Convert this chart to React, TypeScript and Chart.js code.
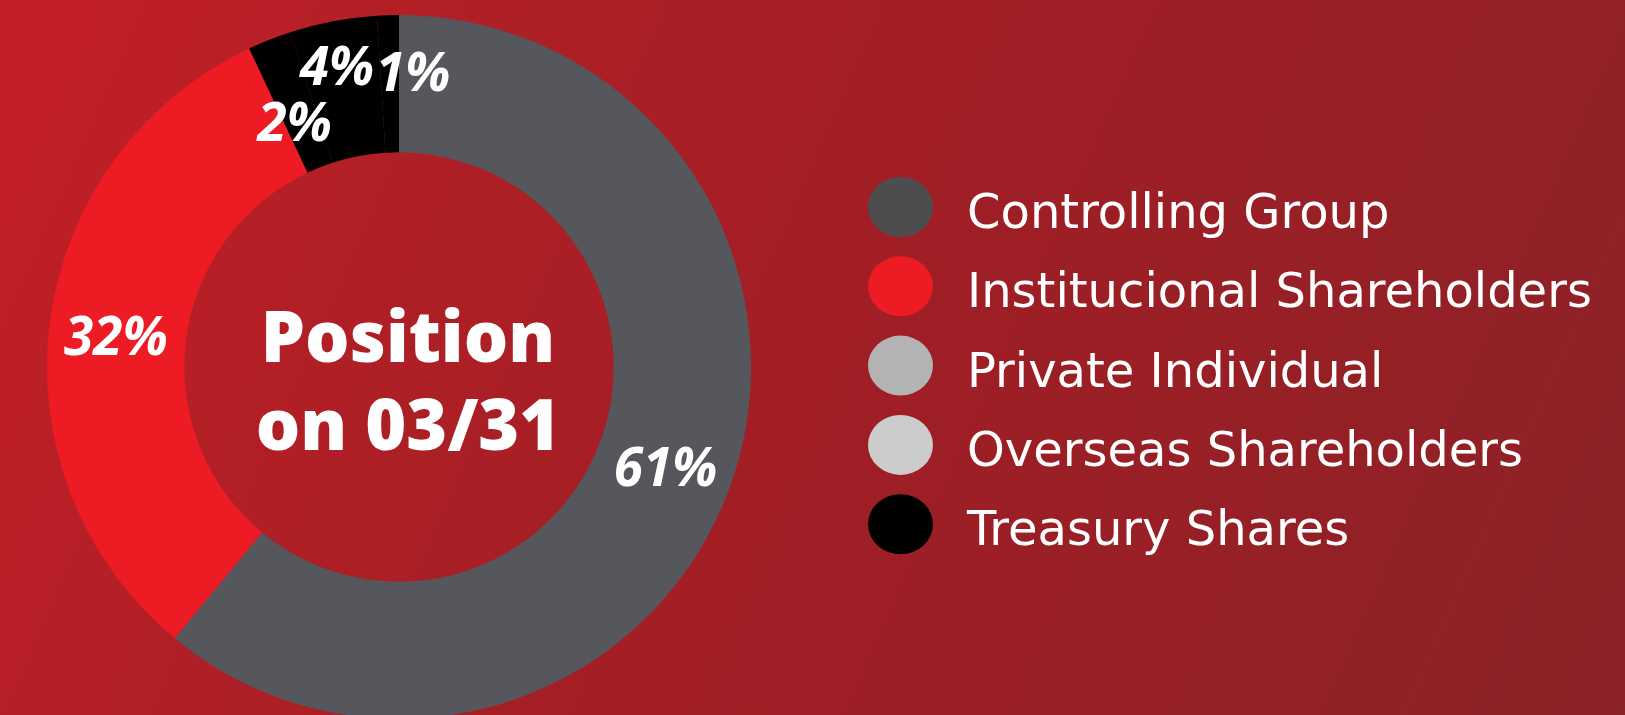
import React, { useEffect, useRef } from 'react';
import { Chart, registerables } from 'chart.js';

Chart.register(...registerables);

// ---- data ----
const categories = [
  'Controlling Group',
  'Institucional Shareholders',
  'Private Individual',
  'Overseas Shareholders',
  'Treasury Shares',
];
const shares = [61, 32, 2, 4, 1];
const shareLabels = ['61%', '32%', '2%', '4%', '1%'];
const sliceColors = ['#55575c', '#ed1c24', '#000000', '#000000', '#000000'];
const legendColors = ['#4d4d4f', '#ed1c24', '#b3b3b3', '#cccccc', '#000000'];
const centerLines = ['Position', 'on 03/31'];

const W = 1625;
const H = 760;

// fine nudges for the slice labels (pixels)
const labelNudges = [
  { dx: 0, dy: 4 },
  { dx: -2, dy: 4 },
  { dx: 0, dy: 18 },
  { dx: -9, dy: -23 },
  { dx: 23, dy: -12 },
];

const backgroundPlugin = {
  id: 'bgGradient',
  beforeDraw(chart: any) {
    const { ctx } = chart;
    const g = ctx.createLinearGradient(0, 0, 1625, 715);
    g.addColorStop(0, '#c41f27');
    g.addColorStop(0.29, '#ad1f25');
    g.addColorStop(0.53, '#a01e25');
    g.addColorStop(1, '#8b2227');
    ctx.save();
    ctx.fillStyle = g;
    ctx.fillRect(0, 0, chart.width, chart.height);
    ctx.restore();
  },
};

const labelsPlugin = {
  id: 'sliceLabels',
  afterDatasetsDraw(chart: any) {
    const { ctx } = chart;
    const meta = chart.getDatasetMeta(0);
    const size = 53;
    ctx.save();
    ctx.fillStyle = '#ffffff';
    ctx.font = `italic 700 ${size}px "Open Sans", sans-serif`;
    ctx.textAlign = 'center';
    ctx.textBaseline = 'alphabetic';
    meta.data.forEach((arc: any, i: number) => {
      const p = arc.getProps(['x', 'y', 'startAngle', 'endAngle', 'innerRadius', 'outerRadius'], true);
      const mid = (p.startAngle + p.endAngle) / 2;
      const r = (p.innerRadius + p.outerRadius) / 2;
      const n = labelNudges[i] || { dx: 0, dy: 0 };
      const x = p.x + Math.cos(mid) * r + n.dx;
      const y = p.y + Math.sin(mid) * r + n.dy;
      ctx.fillText(shareLabels[i], x, y + size * 0.36);
    });
    // center text
    const c = meta.data[0];
    const cx = c.x + 9;
    ctx.font = `800 70px "Open Sans", sans-serif`;
    ctx.fillText(centerLines[0], cx, 362);
    ctx.fillText(centerLines[1], cx, 450);
    ctx.restore();
  },
};

const legendPlugin = {
  id: 'customLegend',
  afterDraw(chart: any) {
    const { ctx } = chart;
    const labels: string[] = chart.data.labels;
    ctx.save();
    ctx.font = `400 48px "DejaVu Sans", sans-serif`;
    ctx.textAlign = 'left';
    ctx.textBaseline = 'alphabetic';
    labels.forEach((lab, i) => {
      const cy = 207 + i * 79.3;
      ctx.beginPath();
      ctx.ellipse(900.5, cy, 32.5, 30, 0, 0, Math.PI * 2);
      ctx.fillStyle = legendColors[i];
      ctx.fill();
      ctx.fillStyle = '#ffffff';
      ctx.fillText(lab, 967, cy + 21);
    });
    ctx.restore();
  },
};

export default function App() {
  const ref = useRef<HTMLCanvasElement | null>(null);

  useEffect(() => {
    if (!ref.current) return;
    const chart = new Chart(ref.current, {
      type: 'doughnut',
      data: {
        labels: categories,
        datasets: [
          {
            data: shares,
            backgroundColor: sliceColors,
            borderWidth: 0,
            hoverOffset: 0,
          },
        ],
      },
      options: {
        responsive: false,
        animation: false,
        cutout: '61%',
        rotation: 0,
        layout: {
          padding: { left: 47, top: 15, right: W - 47 - 704, bottom: H - 15 - 704 },
        },
        plugins: {
          legend: { display: false },
          tooltip: { enabled: false },
        },
        events: [],
      },
      plugins: [backgroundPlugin, labelsPlugin, legendPlugin],
    });
    return () => chart.destroy();
  }, []);

  return (
    <div
      style={{
        position: 'fixed',
        left: 0,
        top: 0,
        width: 1625,
        height: 715,
        overflow: 'hidden',
        background: '#a01e25',
      }}
    >
      <canvas ref={ref} width={W} height={H} style={{ display: 'block' }} />
    </div>
  );
}
